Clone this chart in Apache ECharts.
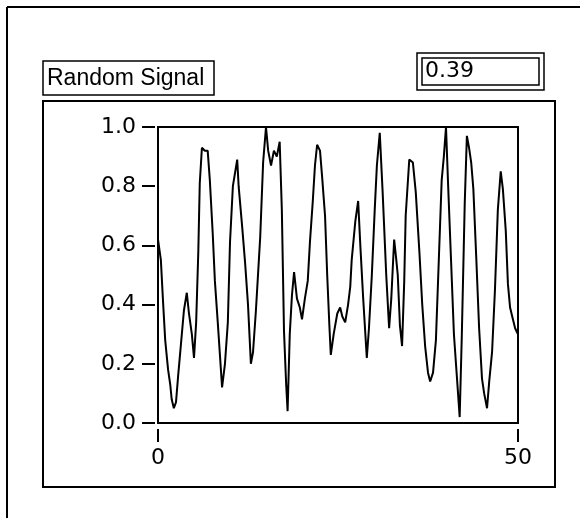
<!DOCTYPE html>
<html>
<head>
<meta charset="utf-8">
<script src="https://cdn.jsdelivr.net/npm/echarts@6/dist/echarts.min.js"></script>
<style>
html,body{margin:0;padding:0;background:#fff;}
#main{width:580px;height:518px;}
</style>
</head>
<body>
<div id="main"></div>
<script>
// 随机信号 波形读数 (x = 采样位置, y = 值)
var xs = [0.0,0.4,0.7,1.0,1.4,1.7,1.9,2.2,2.5,2.8,3.2,3.6,4.0,4.3,4.7,5.0,5.3,5.6,5.8,6.1,
  6.5,6.9,7.2,7.6,7.9,8.3,8.6,8.9,9.3,9.7,10.0,10.4,11.0,11.2,11.7,12.1,12.5,12.9,13.2,13.6,
  14.2,14.6,15.0,15.3,15.7,16.1,16.5,16.9,17.2,17.5,17.8,18.0,18.3,18.6,18.9,19.3,19.7,20.0,20.4,20.8,
  21.1,21.5,21.8,22.1,22.5,22.8,23.2,23.5,23.8,24.0,24.4,24.9,25.3,25.6,26.0,26.4,26.7,26.9,27.4,27.8,
  28.1,28.5,28.8,29.0,29.3,29.7,30.1,30.4,30.8,31.2,31.7,32.1,32.4,32.8,33.1,33.3,33.6,33.9,34.2,34.4,
  34.9,35.4,35.8,36.3,36.7,37.1,37.5,37.8,38.2,38.6,39.0,39.4,39.7,40.0,40.3,40.7,41.1,41.5,41.9,42.2,
  42.6,42.9,43.2,43.5,43.8,44.2,44.6,45.0,45.3,45.7,46.0,46.4,46.8,47.2,47.6,47.9,48.3,48.6,48.9,49.3,
  49.6,50.0];
var ys = [0.62,0.55,0.41,0.28,0.18,0.13,0.08,0.05,0.07,0.16,0.27,0.38,0.44,0.37,0.30,0.22,0.34,0.58,0.81,0.93,
  0.92,0.92,0.82,0.64,0.48,0.34,0.23,0.12,0.20,0.34,0.61,0.80,0.89,0.80,0.66,0.54,0.40,0.20,0.24,0.38,
  0.63,0.88,1.00,0.92,0.87,0.92,0.90,0.95,0.72,0.31,0.13,0.04,0.30,0.43,0.51,0.42,0.39,0.35,0.42,0.48,
  0.61,0.75,0.87,0.94,0.92,0.83,0.70,0.50,0.33,0.23,0.30,0.37,0.39,0.36,0.34,0.40,0.46,0.55,0.68,0.75,
  0.60,0.42,0.30,0.22,0.32,0.50,0.72,0.87,0.98,0.78,0.50,0.32,0.42,0.62,0.55,0.50,0.33,0.26,0.48,0.70,
  0.89,0.88,0.78,0.58,0.40,0.26,0.17,0.14,0.17,0.28,0.55,0.82,0.90,1.00,0.80,0.55,0.30,0.16,0.02,0.30,
  0.74,0.97,0.93,0.88,0.79,0.56,0.32,0.15,0.10,0.05,0.14,0.24,0.45,0.72,0.85,0.79,0.65,0.47,0.39,0.35,
  0.32,0.30];
var yTicks = ['0.0','0.2','0.4','0.6','0.8','1.0'];
var xTicks = ['0','50'];
var chartTitle = 'Random Signal';
var currentValue = '0.39';

var seriesData = [];
for (var i = 0; i < xs.length; i++) {
	seriesData.push([xs[i], ys[i]]);
}

var myChart = echarts.init(document.getElementById('main'));
var font = 'DejaVu Sans';

var option = {
	backgroundColor: '#fff',
	animation: false,
	grid: {
		left: 158, top: 127, width: 360, height: 296,
		show: true, borderColor: '#000', borderWidth: 2, backgroundColor: '#fff'
	},
	xAxis: {
		type: 'value', min: 0, max: 50, interval: 50,
		position: 'bottom',
		offset: 6,
		axisLine: {show: false, onZero: false},
		axisTick: {show: true, length: 13, lineStyle: {color: '#000', width: 2}},
		splitLine: {show: false},
		axisLabel: {
			color: '#000', fontFamily: font, fontSize: 22, margin: 18,
			formatter: function (v) { return xTicks[v / 50]; }
		}
	},
	yAxis: {
		type: 'value', min: 0, max: 1, interval: 0.2,
		offset: 3,
		axisLine: {show: false, onZero: false},
		axisTick: {show: true, length: 13, lineStyle: {color: '#000', width: 2}},
		splitLine: {show: false},
		axisLabel: {
			color: '#000', fontFamily: font, fontSize: 22, margin: 19,
			formatter: function (v) { return yTicks[Math.round(v * 5)]; }
		}
	},
	series: [{
		type: 'line',
		data: seriesData,
		showSymbol: false,
		lineStyle: {color: '#000', width: 2},
		z: 3
	}],
	graphic: [
		// 外框
		{type: 'line', shape: {x1: 7, y1: 7, x2: 580, y2: 7}, style: {stroke: '#000', lineWidth: 2}},
		{type: 'line', shape: {x1: 7, y1: 7, x2: 7, y2: 518}, style: {stroke: '#000', lineWidth: 2}},
		// 图表框
		{type: 'rect', shape: {x: 43, y: 101, width: 512, height: 386}, style: {fill: 'none', stroke: '#000', lineWidth: 2}, z: -1},
		// 标签
		{type: 'rect', shape: {x: 43, y: 61, width: 171, height: 34}, style: {fill: '#fff', stroke: '#000', lineWidth: 1.5}},
		{type: 'text', x: 47, y: 79, style: {text: chartTitle, fill: '#000', font: '23px "Liberation Sans"', verticalAlign: 'middle'}},
		// 数值显示
		{type: 'rect', shape: {x: 417, y: 53, width: 127, height: 37}, style: {fill: '#fff', stroke: '#000', lineWidth: 1.5}},
		{type: 'rect', shape: {x: 422, y: 58, width: 117, height: 27}, style: {fill: '#fff', stroke: '#000', lineWidth: 1.5}},
		{type: 'text', x: 425, y: 71, style: {text: currentValue, fill: '#000', font: '22px "DejaVu Sans"', verticalAlign: 'middle'}}
	]
};
myChart.setOption(option);
</script>
</body>
</html>
